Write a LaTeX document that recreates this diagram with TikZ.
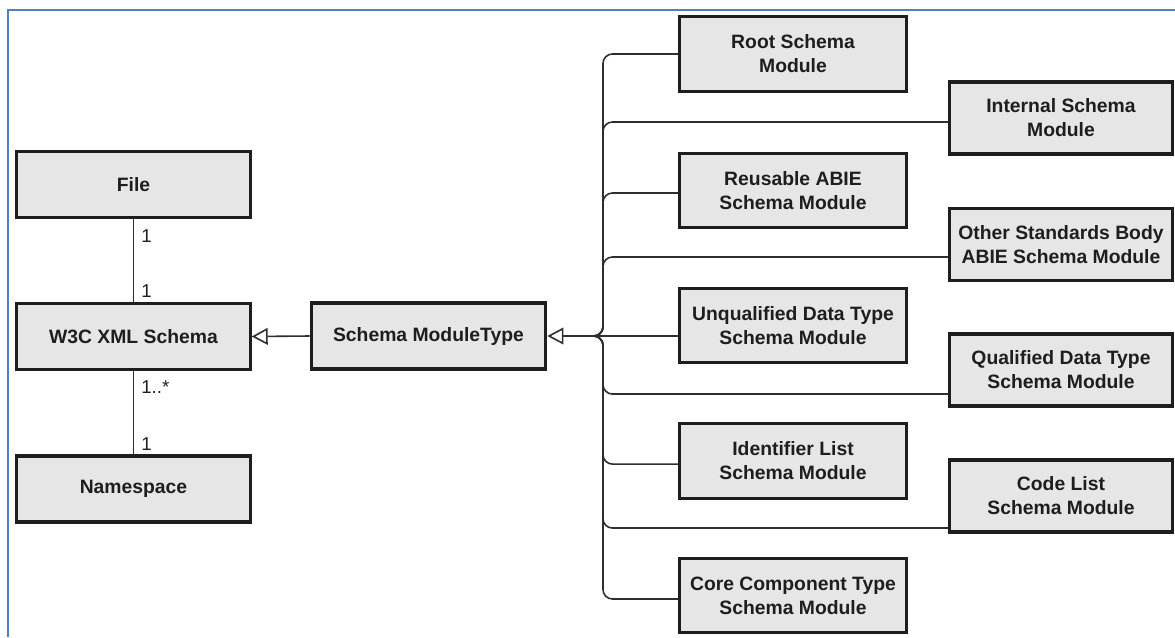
\documentclass[tikz,border=0pt]{standalone}
\usepackage{fontspec}
\setmainfont{Liberation Sans}
\usetikzlibrary{arrows.meta}
\definecolor{frameblue}{HTML}{4F81BD}
\definecolor{boxfill}{HTML}{E6E6E6}
\definecolor{ink}{HTML}{1E1E1E}
\definecolor{wire}{HTML}{2E2E2E}
\begin{document}
\begin{tikzpicture}[x=0.75pt, y=-0.75pt,
  umlbox/.style={draw=ink, line width=2.3pt, fill=boxfill, text=ink, align=center,
    inner sep=0pt, font=\bfseries\fontsize{14.5}{18}\selectfont},
  leftbox/.style={umlbox, minimum width=175pt, minimum height=49.5pt},
  modbox/.style={umlbox, minimum width=170pt, minimum height=56pt},
  extbox/.style={umlbox, minimum width=167pt, minimum height=54pt},
  mult/.style={anchor=west, inner sep=0pt, text=ink, font=\fontsize{14}{16}\selectfont},
  assoc/.style={draw=wire, line width=1.2pt},
  gen/.style={draw=wire, line width=1.2pt, -{Triangle[length=12pt, width=12.5pt, fill=white]}},
  branch/.style={draw=wire, line width=1.2pt, rounded corners=7pt}]
\useasboundingbox (0,0) rectangle (1175,637);

% page frame
\draw[frameblue, line width=1.5pt] (8,637) -- (8,10) -- (1175,10);

% left column
\node[leftbox] (file) at (133.5,184.5) {File};
\node[leftbox] (w3c)  at (133.5,336.5) {W3C XML Schema};
\node[leftbox] (ns)   at (133.5,489)   {Namespace};

\draw[assoc] (file.south) -- (w3c.north);
\draw[assoc] (w3c.south) -- (ns.north);
\node[mult] (mFile)  at (141,236) {1};
\node[mult] (mW3Ca)  at (141,291) {1};
\node[mult] (mW3Cb)  at (141,387) {1..*};
\node[mult] (mNs)    at (141,444) {1};

% module type
\node[umlbox, minimum width=176pt, minimum height=49.5pt] (smt) at (428.5,336) {Schema ModuleType};
\draw[gen] (smt.west) -- (w3c.east);

% concrete schema modules
\node[modbox] (root)  at (793,54)    {Root Schema\\Module};
\node[modbox] (reuse) at (793,190.5) {Reusable ABIE\\Schema Module};
\node[modbox] (unq)   at (793,325.5) {Unqualified Data Type\\Schema Module};
\node[modbox] (ident) at (793,461)   {Identifier List\\Schema Module};
\node[modbox] (core)  at (793,595.5) {Core Component Type\\Schema Module};

\node[extbox] (internal) at (1061,118)   {Internal Schema\\Module};
\node[extbox] (other)    at (1061,244.5) {Other Standards Body\\ABIE Schema Module};
\node[extbox] (qual)     at (1061,370)   {Qualified Data Type\\Schema Module};
\node[extbox] (code)     at (1061,496)   {Code List\\Schema Module};

% generalization tree
\coordinate (hub) at (591,336);
\draw[gen] (hub) -- (smt.east);
\draw[branch] (hub) -- ++(12,0) |- (root.west);
\draw[branch] (hub) -- ++(12,0) |- ([yshift=-3pt]internal.west);
\draw[branch] (hub) -- ++(12,0) |- ([yshift=-1.9pt]reuse.west);
\draw[branch] (hub) -- ++(12,0) |- ([yshift=-9.4pt]other.west);
\draw[branch] (hub) -- (unq.west |- hub);
\draw[branch] (hub) -- ++(12,0) |- ([yshift=-18pt]qual.west);
\draw[branch] (hub) -- ++(12,0) |- ([yshift=-2.3pt]ident.west);
\draw[branch] (hub) -- ++(12,0) |- ([yshift=-24pt]code.west);
\draw[branch] (hub) -- ++(12,0) |- ([yshift=-2.6pt]core.west);
\end{tikzpicture}
\end{document}
